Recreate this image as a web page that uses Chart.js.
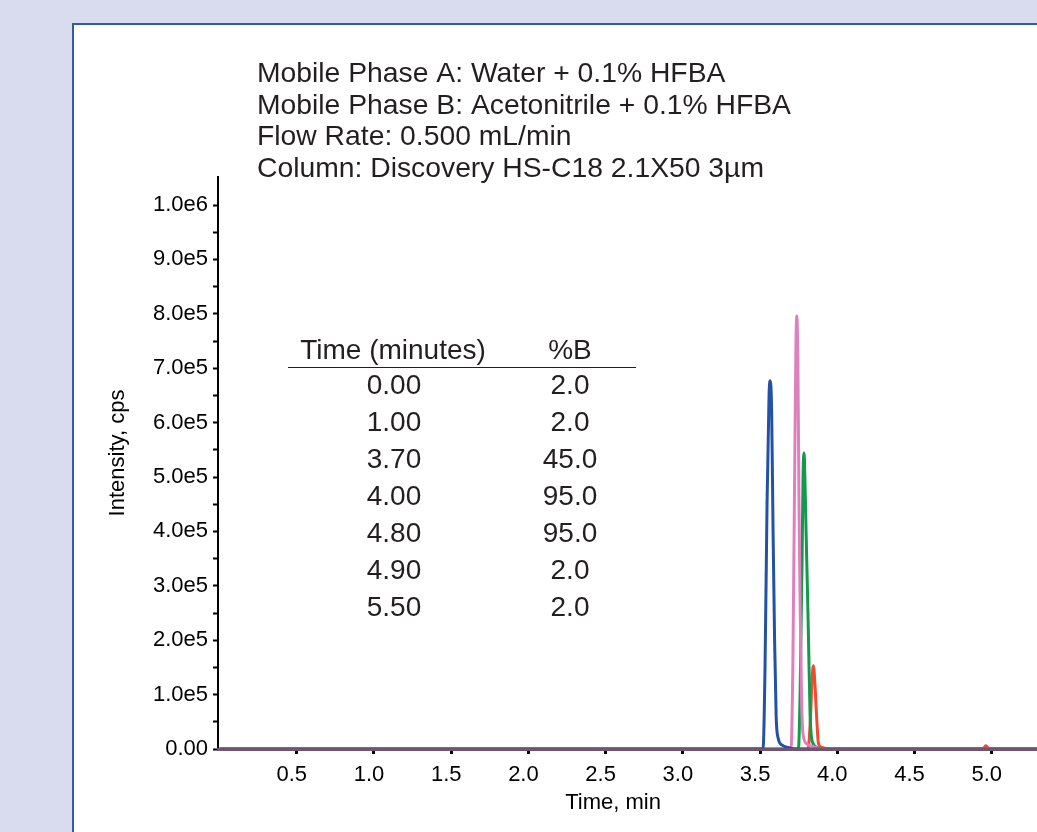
<!DOCTYPE html>
<html>
<head>
<meta charset="utf-8">
<script src="https://cdn.jsdelivr.net/npm/chart.js@4.4.1/dist/chart.umd.min.js"></script>
<style>
    html, body { margin: 0; padding: 0; }
    body {
        width: 1037px;
        height: 832px;
        overflow: hidden;
        background: #d9dcef;
        position: relative;
        font-family: "Liberation Sans", Arial, sans-serif;
    }
    #panel {
        position: absolute;
        left: 72px;
        top: 23px;
        width: 1000px;
        height: 900px;
        background: #ffffff;
        border-left: 2px solid #2d5da9;
        border-top: 2px solid #2d5da9;
    }
    #chrom {
        position: absolute;
        left: 0;
        top: 0;
    }
</style>
</head>
<body>
<div id="panel"></div>
<canvas id="chrom" width="1037" height="832"></canvas>
<script>
// --- Data ---

// run conditions printed above the plot
const conditionLines = [
    "Mobile Phase A: Water + 0.1% HFBA",
    "Mobile Phase B: Acetonitrile + 0.1% HFBA",
    "Flow Rate: 0.500 mL/min",
    "Column: Discovery HS-C18 2.1X50 3\u00b5m",
];

// gradient table
const gradientHeaders = ["Time (minutes)", "%B"];
const gradientTimes = ["0.00", "1.00", "3.70", "4.00", "4.80", "4.90", "5.50"];
const gradientB = ["2.0", "2.0", "45.0", "95.0", "95.0", "2.0", "2.0"];

// axis ticks
const xTickValues = [0.5, 1.0, 1.5, 2.0, 2.5, 3.0, 3.5, 4.0, 4.5, 5.0];
const yTickValues = [0, 50000, 100000, 150000, 200000, 250000, 300000, 350000, 400000, 450000,
    500000, 550000, 600000, 650000, 700000, 750000, 800000, 850000, 900000, 950000, 1000000];

// traces (time in min, intensity in cps)
const blueTime = [0.0, 3.519, 3.532, 3.545, 3.558, 3.565, 3.575, 3.584, 3.594, 3.604, 3.617, 3.643, 3.694, 3.73, 5.30];
const blueCps = [0, 0, 150000, 450000, 650000, 677000, 620000, 400000, 200000, 60000, 20000, 7000, 2000, 0, 0];

const pinkTime = [0.0, 3.70, 3.712, 3.722, 3.732, 3.738, 3.745, 3.752, 3.759, 3.768, 3.777, 3.80, 3.85, 3.91, 5.30];
const pinkCps = [0, 0, 150000, 450000, 740000, 796000, 700000, 450000, 270000, 100000, 30000, 10000, 4000, 0, 0];

const greenTime = [0.0, 3.748, 3.759, 3.772, 3.778, 3.785, 3.79, 3.798, 3.806, 3.813, 3.824, 3.843, 3.87, 3.953, 5.30];
const greenCps = [0, 0, 100000, 350000, 500000, 544000, 500000, 397000, 300000, 210000, 60000, 10000, 3000, 0, 0];

const redTime = [0.0, 3.81, 3.825, 3.837, 3.845, 3.855, 3.866, 3.878, 3.90, 3.953, 4.94, 4.955, 4.962, 4.97, 4.985, 5.30];
const redCps = [0, 0, 50000, 130000, 153000, 120000, 60000, 10000, 3000, 0, 0, 4000, 6000, 4000, 0, 0];

// --- Helpers ---

function toPoints(times, values) {
    return times.map((t, i) => ({ x: t, y: values[i] }));
}

function yLabel(v) {
    if (v === 0) return "0.00";
    if (v % 100000 !== 0) return "";
    return v.toExponential(1).replace("e+", "e");
}

const FONT = '"Liberation Sans", Arial, sans-serif';

// text that sits on the plot: run conditions, gradient table, axis titles
const overlayText = {
    id: "overlayText",
    afterDraw(chart) {
        const ctx = chart.ctx;
        ctx.save();
        ctx.fillStyle = "#231f20";
        ctx.textBaseline = "alphabetic";

        ctx.font = "28.3px " + FONT;
        ctx.textAlign = "left";
        conditionLines.forEach((line, i) => {
            ctx.fillText(line, 257, 82 + i * 31.5);
        });

        // gradient table
        ctx.font = "28px " + FONT;
        ctx.textAlign = "center";
        ctx.fillText(gradientHeaders[0], 393, 359);
        ctx.fillText(gradientHeaders[1], 570, 359);
        ctx.strokeStyle = "#231f20";
        ctx.lineWidth = 1;
        ctx.beginPath();
        ctx.moveTo(288, 367.5);
        ctx.lineTo(636, 367.5);
        ctx.stroke();
        gradientTimes.forEach((t, i) => {
            ctx.fillText(t, 394, 394 + i * 37);
            ctx.fillText(gradientB[i], 570, 394 + i * 37);
        });

        // axis titles
        ctx.fillStyle = "#000";
        ctx.font = "22px " + FONT;
        ctx.textBaseline = "middle";
        ctx.fillText("Time, min", 613, 803);
        ctx.translate(118, 453);
        ctx.rotate(-Math.PI / 2);
        ctx.fillText("Intensity, cps", 0, 0);
        ctx.restore();
    }
};

// --- Chart ---

function trace(label, times, values, color) {
    return {
        label: label,
        data: toPoints(times, values),
        borderColor: color,
        borderWidth: 3,
        pointRadius: 0,
        cubicInterpolationMode: "monotone",
        fill: false,
    };
}

const ctx = document.getElementById("chrom");

const chromChart = new Chart(ctx, {
    type: "line",
    data: {
        datasets: [
            trace("Blue", blueTime, blueCps, "#2352a4"),
            trace("Pink", pinkTime, pinkCps, "#de80bd"),
            trace("Green", greenTime, greenCps, "#129a4a"),
            trace("Red", redTime, redCps, "#ef4a32"),
        ]
    },
    options: {
        responsive: false,
        animation: false,
        events: [],
        layout: {
            padding: { left: 100, top: 177, right: 0, bottom: 0 }
        },
        plugins: {
            legend: { display: false },
            tooltip: { enabled: false },
        },
        scales: {
            x: {
                type: "linear",
                min: -0.01,
                max: 5.293,
                afterFit: (scale) => { scale.height = 83; },
                afterBuildTicks: (scale) => {
                    scale.ticks = xTickValues.map((v) => ({ value: v }));
                },
                ticks: {
                    color: "#000",
                    font: { family: FONT, size: 22 },
                    padding: 8,
                    labelOffset: -5,
                    maxRotation: 0,
                    autoSkip: false,
                    callback: (v) => v.toFixed(1),
                },
                grid: {
                    drawOnChartArea: false,
                    drawTicks: true,
                    tickLength: 5,
                    tickColor: "#000",
                    tickWidth: 3,
                },
                border: { display: true, color: "#6f5570", width: 3, z: 1 },
            },
            y: {
                type: "linear",
                min: 0,
                max: 1051500,
                afterFit: (scale) => { scale.width = 118; },
                afterBuildTicks: (scale) => {
                    scale.ticks = yTickValues.map((v) => ({ value: v }));
                },
                ticks: {
                    color: "#000",
                    font: { family: FONT, size: 22 },
                    padding: 5,
                    autoSkip: false,
                    callback: (v) => yLabel(v),
                },
                grid: {
                    drawOnChartArea: false,
                    drawTicks: true,
                    tickLength: 5,
                    tickColor: "#000",
                    tickWidth: 2,
                },
                border: { display: true, color: "#000", width: 2 },
            }
        }
    },
    plugins: [overlayText]
});
</script>
</body>
</html>
